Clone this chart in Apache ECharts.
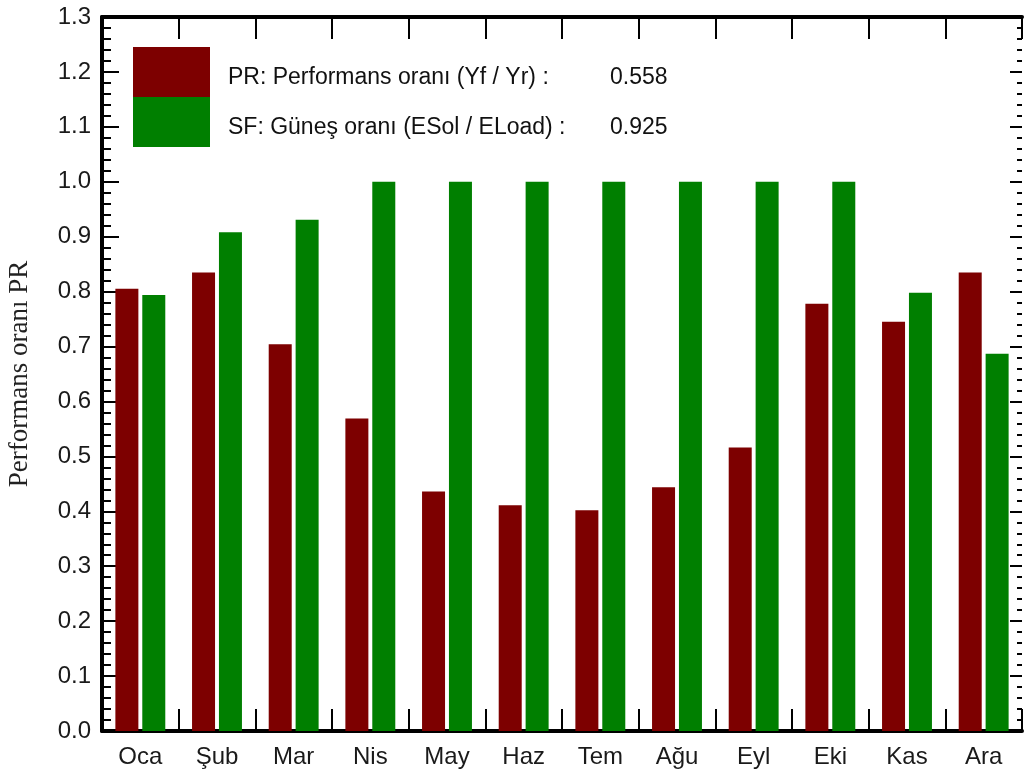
<!DOCTYPE html>
<html>
<head>
<meta charset="utf-8">
<title>Performans oranı PR</title>
<script src="https://cdn.jsdelivr.net/npm/echarts@6/dist/echarts.min.js"></script>
<style>
    html, body { margin: 0; padding: 0; background: #fff; }
    #chart { width: 1025px; height: 779px; }
</style>
</head>
<body>
<div id="chart"></div>
<script>
// aylar
const months = ['Oca', 'Şub', 'Mar', 'Nis', 'May', 'Haz', 'Tem', 'Ağu', 'Eyl', 'Eki', 'Kas', 'Ara'];

// PR: performans oranı (aylık)
const prValues = [0.805, 0.835, 0.704, 0.569, 0.436, 0.411, 0.402, 0.444, 0.516, 0.778, 0.745, 0.835];
// SF: güneş oranı (aylık)
const sfValues = [0.794, 0.908, 0.931, 1.0, 1.0, 1.0, 1.0, 1.0, 1.0, 1.0, 0.798, 0.687];

// lejant metinleri ve yıllık değerler
const seriesNames = ['PR: Performans oranı (Yf / Yr) :', 'SF: Güneş oranı (ESol / ELoad) :'];
const annualValues = ['0.558', '0.925'];

const chart = echarts.init(document.getElementById('chart'));

const axisLine = { show: true, onZero: false, lineStyle: { color: '#000', width: 4 } };
const catTick = { show: true, inside: true, length: 22, lineStyle: { color: '#000', width: 2 } };

const option = {
    animation: false,
    grid: { left: 102, right: 3, top: 17, bottom: 48, outerBoundsMode: 'none' },
    legend: {
        orient: 'vertical',
        left: 133,
        top: 47,
        padding: 0,
        itemWidth: 77,
        itemHeight: 50,
        itemGap: 0,
        icon: 'rect',
        selectedMode: false,
        data: seriesNames,
        formatter: function(name) {
            const i = seriesNames.indexOf(name);
            return `{a|${name}}{b|${annualValues[i]}}`;
        },
        textStyle: {
            padding: [12, 0, 0, 13],
            rich: {
                a: { fontFamily: 'Liberation Sans', fontSize: 23, color: '#111', width: 382 },
                b: { fontFamily: 'Liberation Sans', fontSize: 23, color: '#111' }
            }
        }
    },
    xAxis: [
        {
            type: 'category',
            data: months,
            position: 'bottom',
            axisLine: axisLine,
            axisTick: catTick,
            axisLabel: { fontFamily: 'Liberation Sans', fontSize: 24, color: '#1a1a1a', margin: 14 }
        },
        {
            type: 'category',
            data: months,
            position: 'top',
            axisLine: axisLine,
            axisTick: catTick,
            axisLabel: { show: false }
        }
    ],
    yAxis: [
        {
            type: 'value',
            min: 0,
            max: 1.3,
            interval: 0.1,
            position: 'left',
            name: 'Performans oranı PR',
            nameLocation: 'middle',
            nameGap: 69,
            nameTextStyle: { fontFamily: 'Liberation Serif', fontSize: 27, color: '#222' },
            axisLine: axisLine,
            axisTick: { show: true, inside: true, length: 17, lineStyle: { color: '#000', width: 2 } },
            minorTick: { show: true, splitNumber: 5, length: 9, lineStyle: { color: '#000', width: 2 } },
            splitLine: { show: false },
            axisLabel: {
                fontFamily: 'Liberation Sans',
                fontSize: 24,
                color: '#1a1a1a',
                margin: 11,
                formatter: v => v.toFixed(1)
            }
        },
        {
            type: 'value',
            min: 0,
            max: 1.3,
            interval: 0.1,
            position: 'right',
            axisLine: { show: false },
            axisTick: { show: true, inside: true, length: 12, lineStyle: { color: '#000', width: 2 } },
            minorTick: { show: true, splitNumber: 5, length: 5, lineStyle: { color: '#000', width: 2 } },
            splitLine: { show: false },
            axisLabel: { show: false }
        }
    ],
    series: [
        {
            name: seriesNames[0],
            type: 'bar',
            data: prValues,
            barWidth: 23,
            barGap: '17%',
            itemStyle: { color: '#7d0000' }
        },
        {
            name: seriesNames[1],
            type: 'bar',
            data: sfValues,
            barWidth: 23,
            itemStyle: { color: '#007f00' }
        }
    ]
};

chart.setOption(option);
</script>
</body>
</html>
